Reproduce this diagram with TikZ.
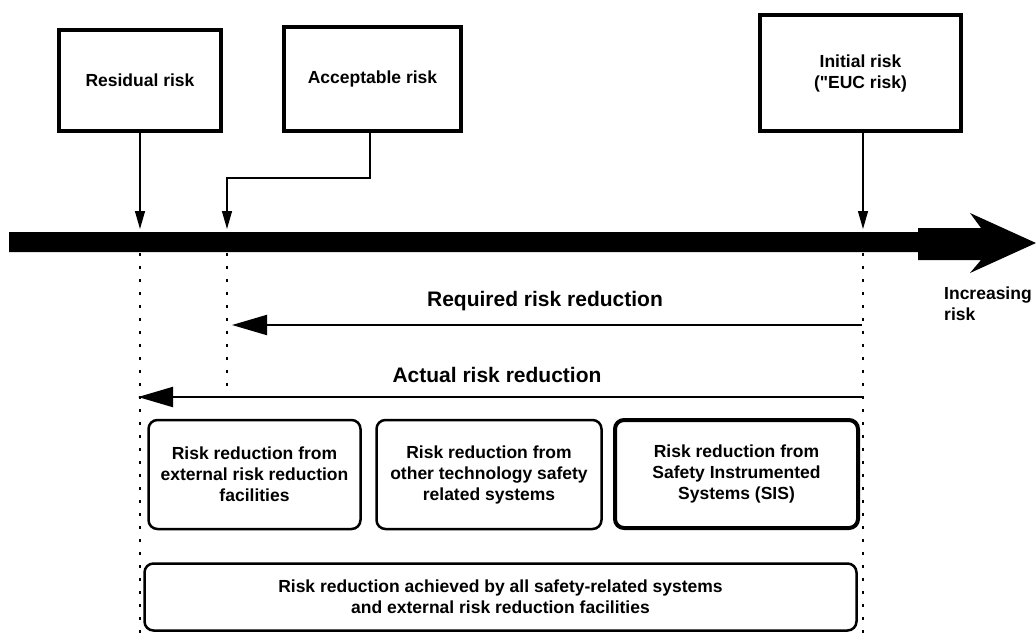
\documentclass[tikz,border=0pt]{standalone}
\usepackage{fontspec}
\setmainfont{Liberation Sans}[Ligatures=TeXOff]
\usetikzlibrary{arrows.meta,calc}

\tikzset{
  txt/.style={font=\bfseries\fontsize{17.5}{21}\selectfont, align=center},
  bigtxt/.style={font=\bfseries\fontsize{21}{25}\selectfont, inner sep=0pt},
  riskbox/.style={txt, draw, line width=4pt, inner sep=0pt},
  redbox/.style={txt, draw, line width=2.5pt, rounded corners=9pt, inner sep=0pt},
  sisbox/.style={redbox, line width=4pt},
  conn/.style={line width=1.3pt, -{Triangle[length=18pt,width=10pt]}},
  reduce/.style={line width=2pt, -{Triangle[length=35pt,width=20pt]}},
  dotline/.style={line width=2pt, dash pattern=on 2.5pt off 10.5pt},
}

\begin{document}
\begin{tikzpicture}[x=1pt,y=-1pt]
\useasboundingbox (0,0) rectangle (1036,641);

% risk levels
\node[riskbox, minimum width=162pt, minimum height=101pt] (res) at (140,80.5) {Residual risk};
\node[riskbox, minimum width=177pt, minimum height=104pt] (acc) at (372.5,79) {Acceptable risk};
\node[riskbox, minimum width=201pt, minimum height=116pt] (init) at (860.5,73) {Initial risk\\("EUC risk)};

% increasing-risk axis
\fill (9,232) -- (918,232) -- (918,228) -- (981,228) -- (970,213) -- (1036,243)
      -- (970,273) -- (981,260) -- (918,260) -- (918,252) -- (9,252) -- cycle;
\node[txt, align=left, anchor=west, inner sep=0pt] (incr) at (944,303.5) {Increasing\\risk};

% points on the axis
\coordinate (pRes) at (140,229);
\coordinate (pAcc) at (227,229);
\coordinate (pInit) at (863,229);

\draw[conn] (res.south) -- (pRes);
\draw[conn] ([xshift=-2.5pt]acc.south) -- ++(0,45) -| (pAcc);
\draw[conn] (init.south -| pInit) -- (pInit);

% dotted guides below the axis
\coordinate (gRes) at (140,253);
\coordinate (gResEnd) at (140,641);
\coordinate (gAcc) at (227,253);
\coordinate (gAccEnd) at (227,386);
\coordinate (gInit) at (863,253);
\coordinate (gInitEnd) at (863,641);
\draw[dotline] (gRes) -- (gResEnd);
\draw[dotline] (gAcc) -- (gAccEnd);
\draw[dotline] (gInit) -- (gInitEnd);

% risk reductions
\coordinate (reqR) at (862,325);
\coordinate (reqL) at (232,325);
\coordinate (actR) at (862,397);
\coordinate (actL) at (138,397);
\draw[reduce] (reqR) -- (reqL);
\draw[reduce] (actR) -- (actL);
\node[bigtxt] (reqlbl) at (545,301) {Required risk reduction};
\node[bigtxt] (actlbl) at (497,375) {Actual risk reduction};

% contributing measures
\node[redbox, minimum width=212pt, minimum height=109pt] (ext) at (254.5,474.5)
  {Risk reduction from\\external risk reduction\\facilities};
\node[redbox, minimum width=225pt, minimum height=109pt] (oth) at (489,474.5)
  {Risk reduction from\\other technology safety\\related systems};
\node[sisbox, minimum width=243pt, minimum height=108pt] (sis) at (736.5,474)
  {Risk reduction from\\Safety Instrumented\\Systems (SIS)};
\node[redbox, minimum width=712pt, minimum height=67pt] (all) at (500.5,597)
  {Risk reduction achieved by all safety-related systems\\and external risk reduction facilities};
\end{tikzpicture}
\end{document}
